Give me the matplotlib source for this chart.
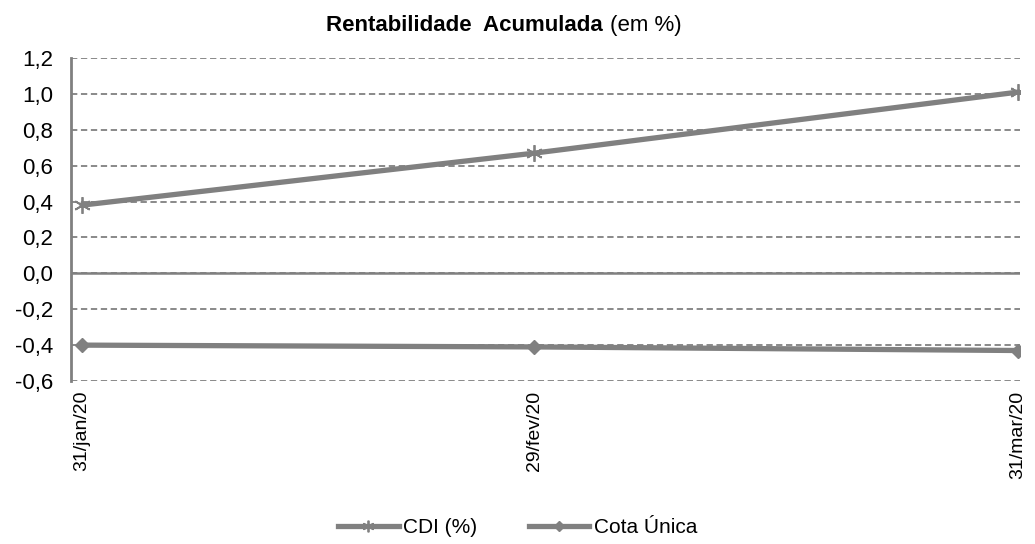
import datetime as dt
import matplotlib
matplotlib.use("Agg")
import matplotlib.pyplot as plt
import matplotlib.dates as mdates
from matplotlib.ticker import FuncFormatter, MultipleLocator

plt.rcParams['font.family'] = ['Liberation Sans', 'DejaVu Sans']

dates = [dt.date(2020, 1, 31), dt.date(2020, 2, 29), dt.date(2020, 3, 31)]
date_labels = ["31/jan/20", "29/fev/20", "31/mar/20"]
cdi = [0.38, 0.67, 1.01]
cota = [-0.40, -0.41, -0.43]

grey = "#808080"

fig = plt.figure(figsize=(10.35, 5.44), dpi=100)
ax = fig.add_axes([0.0686, 0.2996, 0.917, 0.5938])

ax.plot(dates, cdi, color=grey, lw=3.8, marker=(6, 2, 0), ms=12, mew=1.3,
        label="CDI (%)", zorder=3)
ax.plot(dates, cota, color=grey, lw=3.8, marker="D", ms=7, label="Cota Única",
        zorder=3)

ax.set_ylim(-0.6, 1.2)
ax.yaxis.set_major_locator(MultipleLocator(0.2))
ax.yaxis.set_major_formatter(FuncFormatter(lambda v, p: f"{v:.1f}".replace(".", ",").replace("-0,0", "0,0")))
ax.grid(axis="y", color=grey, ls=(0, (3.5, 2)), lw=1.3)
ax.axhline(0, color=grey, lw=1.8, zorder=2)

x0 = mdates.date2num(dates[0])
x1 = mdates.date2num(dates[-1])
span = (x1 - x0) / (1018 - 82)
ax.set_xlim(x0 - 11 * span, x1 + 2 * span)
ax.set_xticks(mdates.date2num(dates))
ax.set_xticklabels(date_labels, rotation=90, va="top", ha="center")

for s in ["top", "right", "bottom"]:
    ax.spines[s].set_visible(False)
ax.spines["left"].set_color(grey)
ax.spines["left"].set_linewidth(2)
ax.tick_params(axis="both", length=0)
ax.tick_params(axis="x", pad=7, labelsize=14)
ax.tick_params(axis="y", pad=13, labelsize=16)

fig.text(0.582, 0.954, "Rentabilidade  Acumulada", fontsize=16, fontweight="bold",
         ha="right", va="center")
fig.text(0.589, 0.954, "(em %)", fontsize=16, ha="left", va="center")

fig.legend(loc="lower center", bbox_to_anchor=(0.5, -0.022), ncol=2, frameon=False,
           fontsize=15, handlelength=2.9, handletextpad=0.2, columnspacing=2.5,
           markerscale=0.7)

fig.savefig("out.png", dpi=100)
